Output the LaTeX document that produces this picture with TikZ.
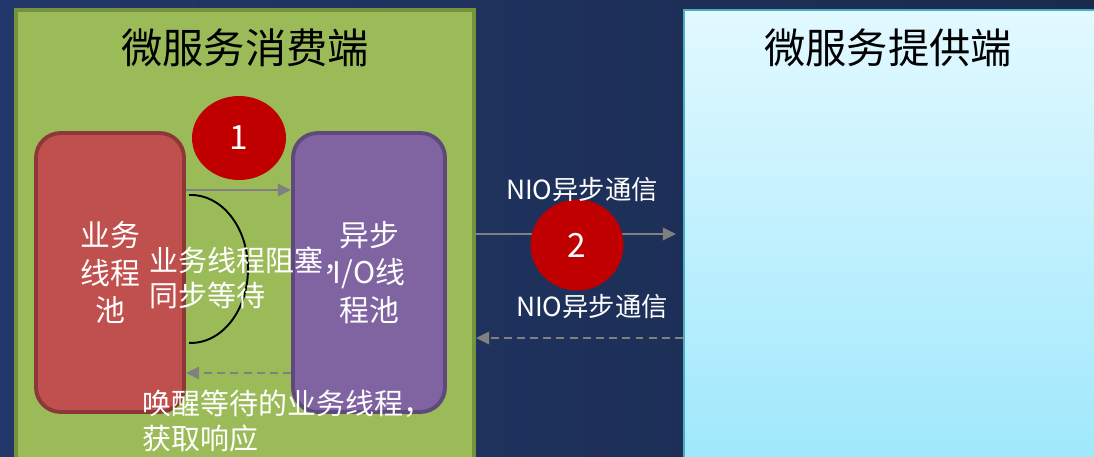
\documentclass[tikz,border=0pt]{standalone}
\usepackage{fontspec}
\setmainfont{Noto Sans CJK SC}
\usetikzlibrary{arrows.meta,shapes.geometric}
\definecolor{bgL}{HTML}{22386A}
\definecolor{bgR}{HTML}{1A2A4C}
\definecolor{greenfill}{HTML}{9BBB59}
\definecolor{greenline}{HTML}{76923C}
\definecolor{redfill}{HTML}{C0504D}
\definecolor{redline}{HTML}{8C3836}
\definecolor{purfill}{HTML}{8064A2}
\definecolor{purline}{HTML}{5F497A}
\definecolor{badge}{HTML}{C00000}
\definecolor{provtop}{HTML}{E2F9FF}
\definecolor{provbot}{HTML}{9EE8FC}
\definecolor{provline}{HTML}{4BACC6}
\definecolor{arrowgray}{HTML}{808080}
\tikzset{
  bigbox/.style={rectangle, minimum height=9.2cm, inner sep=0pt},
  pool/.style={rectangle, rounded corners=14pt, line width=2.2pt, minimum height=5.58cm,
     align=center, text=white, font=\fontsize{17}{21.3}\selectfont},
  badgestyle/.style={ellipse, fill=badge, text=white, font=\fontsize{19}{22}\selectfont, inner sep=0pt},
  titletext/.style={font=\fontsize{23.5}{28}\selectfont, text=black},
  whitetext/.style={text=white, align=left, inner sep=0pt, font=\fontsize{16.5}{20}\selectfont},
  niotext/.style={text=white, inner sep=0pt, font=\fontsize{15}{18}\selectfont},
  flow/.style={draw=arrowgray, line width=1.4pt, -{Triangle[length=7.5pt,width=7pt]}},
  backflow/.style={flow, dash pattern=on 4.5pt off 3pt},
}
\begin{document}
\begin{tikzpicture}[x=0.02cm,y=-0.02cm]
\useasboundingbox (0,0) rectangle (1094,456);
\clip (0,0) rectangle (1094,456);
\shade[left color=bgL, right color=bgR] (0,0) rectangle (1094,456);

% consumer and provider boxes
\node[bigbox, draw=greenline, fill=greenfill, line width=2.3pt, minimum width=9.16cm] (consumer) at (245,240) {};
\node[bigbox, draw=provline, top color=provtop, bottom color=provbot, line width=1.2pt, minimum width=8.32cm] (provider) at (892,240) {};

\node[titletext] (ctitle) at (245,48) {微服务消费端};
\node[titletext] (ptitle) at (888,48) {微服务提供端};

% pools
\node[pool, draw=redline, fill=redfill, minimum width=2.96cm] (biz) at (110,272.5) {业务\\线程\\池};
\node[pool, draw=purline, fill=purfill, minimum width=3.04cm] (io) at (369,272.5) {异步\\I/O线\\程池};

% badge 1
\node[badgestyle, minimum width=1.88cm, minimum height=1.68cm] (b1) at (239,138) {1};

% internal arrows
\draw[flow] (biz.east |- 0,190) -- (io.west |- 0,190);
\draw[backflow] (io.west |- 0,373) -- (biz.east |- 0,373);

% blocking arc
\coordinate (arcstart) at (189,195);
\draw[black, line width=1.1pt] (arcstart) arc[start angle=-92, end angle=92, x radius=57, y radius=74];

\node[whitetext, anchor=west] (blocktxt) at (149,278) {业务线程阻塞，\\同步等待};
\node[whitetext, anchor=west] (waketxt) at (142,421) {唤醒等待的业务线程，\\获取响应};

% external communication
\draw[flow, shorten >=4pt] (consumer.east |- 0,234) -- (provider.west |- 0,234);
\draw[backflow] (provider.west |- 0,338) -- (consumer.east |- 0,338);

\node[badgestyle, minimum width=1.86cm, minimum height=1.82cm] (b2) at (577,245) {2};

\node[niotext] (nio1) at (582,190) {NIO异步通信};
\node[niotext] (nio2) at (592,307) {NIO异步通信};
\end{tikzpicture}
\end{document}
